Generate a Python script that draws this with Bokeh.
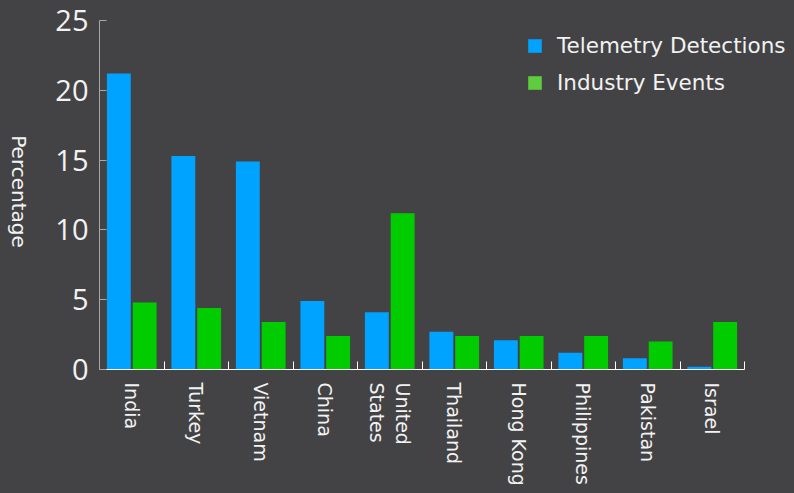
import numpy as np
from bokeh.plotting import figure
from bokeh.layouts import row
from bokeh.models import Range1d, FixedTicker, Legend, LegendItem, Label, ColumnDataSource
from bokeh.transform import dodge
from bokeh.embed import file_html
from bokeh.resources import INLINE

countries = ["India", "Turkey", "Vietnam", "China", "United\nStates", "Thailand",
             "Hong Kong", "Philippines", "Pakistan", "Israel"]
telemetry = [21.2, 15.3, 14.9, 4.9, 4.1, 2.7, 2.1, 1.2, 0.8, 0.2]
industry = [4.8, 4.4, 3.4, 2.4, 11.2, 2.4, 2.4, 2.4, 2.0, 3.4]
y_ticks = [0, 5, 10, 15, 20, 25]
series_names = ["Telemetry Detections", "Industry Events"]
y_title = "Percentage"

BG = "#434345"
BLUE = "#00A3FF"
GREEN = "#00CC00"
LEG_GREEN = "#5ECC3E"
TXT = "#f2f2f2"
FONT = "Open Sans"
LFONT = "DejaVu Sans"

W, H = 794, 493
LAB_W = 30                 # strip holding the vertical y-axis title
LEFT, TOP, BOTTOM = 99, 20, 124
AXIS_PX = 645              # pixel length of the categorical axis
FRAME_H = H - TOP - BOTTOM

n = len(countries)
pos = np.arange(n) + 0.5
src = ColumnDataSource(dict(x=pos, t=telemetry, i=industry))

# ---- title strip (y-axis title reading top to bottom); its frame is aligned with the
# main frame by the row layout, so data units == pixels of that frame
lab = figure(width=LAB_W, height=H, output_backend="svg", toolbar_location=None,
             x_axis_location=None, y_axis_location=None,
             background_fill_color=BG, border_fill_color=BG, outline_line_color=None,
             min_border=0, x_range=Range1d(0, LAB_W), y_range=Range1d(0, FRAME_H))
lab.grid.visible = False
lab.add_layout(Label(x=18, y=H - BOTTOM - 191, text=y_title,
                     angle=-np.pi / 2, text_align="center", text_baseline="middle",
                     text_font=LFONT, text_font_size="20px", text_color=TXT))

# ---- main chart
main_w = W - LAB_W
main_left = LEFT - LAB_W
x_end = n * (main_w - main_left) / AXIS_PX  # frame runs to the right edge (legend not clipped)

p = figure(width=main_w, height=H, x_range=Range1d(0, x_end), y_range=Range1d(0, 25),
           output_backend="svg", toolbar_location=None,
           background_fill_color=BG, border_fill_color=BG, outline_line_color=None,
           min_border_left=main_left, min_border_right=0, min_border_top=TOP,
           min_border_bottom=BOTTOM)
p.grid.visible = False

p.vbar(x=dodge("x", -0.2), top="t", width=0.37, source=src, fill_color=BLUE, line_color=None)
p.vbar(x=dodge("x", 0.2), top="i", width=0.37, source=src, fill_color=GREEN, line_color=None)

# hidden proxies for legend swatches
r1 = p.vbar(x=dodge("x", -0.2), top="t", width=0.37, source=src, fill_color=BLUE,
            line_color=None, visible=False)
r2 = p.vbar(x=dodge("x", 0.2), top="i", width=0.37, source=src, fill_color=LEG_GREEN,
            line_color=None, visible=False)

xa = p.xaxis[0]
xa.bounds = (0, n)
xa.ticker = FixedTicker(ticks=list(pos), minor_ticks=list(range(1, n + 1)))
xa.major_label_overrides = {float(x): c for x, c in zip(pos, countries)}
xa.major_tick_in = 0
xa.major_tick_out = 0
xa.minor_tick_in = 8
xa.minor_tick_out = 0
xa.minor_tick_line_color = "white"
xa.axis_line_color = "white"
xa.major_label_orientation = -np.pi / 2
xa.major_label_text_font = "DejaVu Sans"
xa.major_label_text_font_size = "19px"
xa.major_label_text_color = TXT
xa.major_label_standoff = 13

ya = p.yaxis[0]
ya.ticker = FixedTicker(ticks=y_ticks)
ya.major_tick_in = 7
ya.major_tick_out = 0
ya.minor_tick_line_color = None
ya.axis_line_color = "#a8a8a8"
ya.major_tick_line_color = "#a8a8a8"
ya.major_label_text_font = FONT
ya.major_label_text_font_size = "29px"
ya.major_label_text_color = TXT
ya.major_label_standoff = 11

legend = Legend(items=[LegendItem(label=series_names[0], renderers=[r1]),
                       LegendItem(label=series_names[1], renderers=[r2])],
                location=(427, 271), glyph_width=17, glyph_height=17, label_height=32,
                spacing=5, padding=0, margin=0, label_standoff=14,
                label_text_font=LFONT, label_text_font_size="21.5px", label_text_color=TXT,
                background_fill_alpha=0, border_line_alpha=0,
                inactive_fill_alpha=0)
p.add_layout(legend)

layout = row(lab, p, spacing=0)
html = file_html(layout, INLINE)
html = html.replace("</head>", "<style>body{background:%s}</style></head>" % BG, 1)
open("out.html", "w").write(html)
